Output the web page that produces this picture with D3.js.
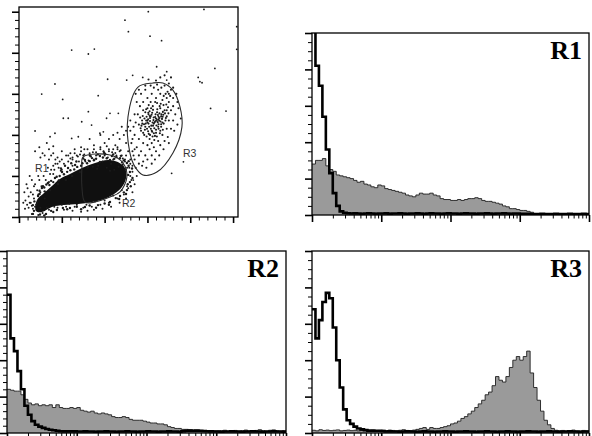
<!DOCTYPE html>
<html>
<head>
<meta charset="utf-8">
<script src="https://cdn.jsdelivr.net/npm/d3@7"></script>
<style>
  body { margin: 0; background: #fff; }
  svg { display: block; }
</style>
</head>
<body>
<div id="main"></div>
<script>
// log10 of the left edge of each histogram channel bin (4 decades)
const binEdges = [0,0.05,0.1,0.15,0.2,0.25,0.3,0.35,0.4,0.45,0.5,0.55,0.6,0.65,0.7,0.75,0.8,0.85,0.9,0.95,
  1,1.05,1.1,1.15,1.2,1.25,1.3,1.35,1.4,1.45,1.5,1.55,1.6,1.65,1.7,1.75,1.8,1.85,1.9,1.95,
  2,2.05,2.1,2.15,2.2,2.25,2.3,2.35,2.4,2.45,2.5,2.55,2.6,2.65,2.7,2.75,2.8,2.85,2.9,2.95,
  3,3.05,3.1,3.15,3.2,3.25,3.3,3.35,3.4,3.45,3.5,3.55,3.6,3.65,3.7,3.75,3.8,3.85,3.9,3.95];

// counts (% of panel height) per bin: grey = stained, black line = control
const r1Stained = [28,30,30,31,27,25,24,22,21.5,21, 20.5,20,19,18,18.5,17,16.5,15.5,15,16.5,
  16,14.5,14,13.5,13,12.5,12,11,10.5,10, 11,12,11.5,11.5,12,11,10.5,9,8.5,8.5,
  8,8,8.5,8,8.5,9,9,9.5,9,8, 7.5,7.5,7,6.5,6,5,4.5,3.5,3.5,3,
  2.5,2.5,2,1.5,0.8,0.6,0.5,0.6,0.5,0.7, 0.5,0.6,0.5,0.6,0.5,0.7,0.5,0.6,0.5,0.6];
const r1Control = [118,82,71,54,36,23,12,5,2,1.2, 1,0.8,0.9,0.8,0.7,0.8,0.9,0.8,0.7,0.8,
  0.8,0.9,0.7,0.8,0.8,0.9,0.8,0.7,0.8,0.8, 0.9,0.8,0.7,0.8,0.9,0.8,0.8,0.7,0.8,0.9,
  0.8,0.8,0.7,0.8,0.9,0.8,0.8,0.7,0.8,0.8, 0.9,0.8,0.7,0.8,0.8,0.9,0.8,0.7,0.8,0.8,
  0.7,0.6,0.6,0.5,0.5,0.5,0.6,0.5,0.5,0.5, 0.6,0.5,0.5,0.5,0.6,0.5,0.5,0.5,0.6,0.5];

const r2Stained = [24,23.5,23,23,21,18.5,16.5,15.5,16,15, 15.5,15,15.5,14,15.5,14,13.5,13.5,14,13.5,
  14,12.5,12,11.5,12,11,10.5,11,10.5,10, 9,8.5,8.5,9,8.5,7.5,7,7,7,6.5,
  6,5.5,5.5,5,5,4.5,3.5,3,2.5,2.5, 2,2,1.8,1.6,1.6,1.4,1.2,1.2,1.2,1.2,
  1.2,1.2,1.5,1,1.3,1.4,1,1.2,1.6,1.1, 1,1.4,1.8,1.2,1,1.5,1.7,1.2,1,1.3];
const r2Control = [76,52,45,34,24,15,10,6.5,4.5,3.5, 2.8,2.2,1.8,1.5,1.2,1,0.9,0.9,0.9,0.9,
  0.8,0.8,0.9,0.8,0.8,0.7,0.8,0.8,0.9,0.8, 0.8,0.7,0.8,0.8,0.9,0.8,0.8,0.7,0.8,0.8,
  0.9,0.8,0.8,0.7,0.8,0.8,0.9,0.8,0.8,0.7, 1,1.2,1.3,1.2,1.3,1.2,1.1,1,0.9,0.8,
  0.8,0.7,0.8,0.8,0.9,0.8,0.8,0.7,0.8,0.8, 0.9,0.8,0.8,0.7,0.8,0.8,0.9,0.8,0.8,0.7];

const r3Stained = [1.5,1.2,1.8,1.4,1.6,1.3,1.5,1.7,1.2,1.4, 1.6,1.3,1.5,1.2,1.4,1.6,1.3,1.5,1.2,1.4,
  1.5,1.3,1.6,1.4,1.2,1.5,1.8,1.4,1.3,1.6, 2,2.5,3,2,3,2.5,2.5,3,3.5,4,
  5,5.5,6.5,8,9,10.5,12,14,16,18, 21,22.5,26,31,29,28,31,36,40,42,
  40,42,45,33,25,18,12,7,4.5,2.5, 1.5,1.2,1.4,1,1.3,1.6,1.1,1,1.4,1.2];
const r3Control = [68,52,62,72,77,74,58,40,25,13, 7,5,3.5,2.5,2,1.6,1.3,1.3,1.2,1.2,
  1.1,0.8,0.9,0.8,0.8,0.7,0.8,0.9,0.8,0.8, 0.7,0.8,0.9,0.8,0.8,0.7,0.8,0.8,0.9,0.8,
  0.8,0.7,0.8,0.8,0.9,0.8,0.8,0.7,0.8,0.8, 0.9,0.8,0.8,0.7,0.8,0.8,0.9,0.8,0.8,0.7,
  0.8,0.8,0.9,0.8,0.8,0.7,0.8,0.8,0.9,0.8, 0.8,0.7,0.8,0.8,0.9,0.8,0.8,0.7,0.8,0.8];

// scatter events [FSC, SSC] in channels 0-1023
const outlierEvents = [[495,959],[511,903],[604,1000],[612,881],[666,859],[246,813],[324,794],[352,818],
  [864,1011],[1017,927],[1017,817],[168,648],[106,599],[204,573],[370,591],[414,671],[503,667],[531,690],
  [578,680],[643,732],[690,708],[690,667],[837,680],[845,659],[855,654],[915,724],[895,529],[967,516],
  [207,481],[230,481],[324,513],[339,448],[293,464],[409,481],[425,505],[464,505],[75,419],[145,391],
  [168,408],[246,383],[277,391],[378,408],[394,415],[768,269],[713,213],[534,180]];

const r3Events = [[600,470],[615,490],[630,455],[645,510],[590,440],[660,530],[620,420],[605,500],[640,480],
  [655,470],[675,545],[585,400],[570,420],[610,380],[635,395],[650,440],[665,500],[680,520],[625,540],[600,530],
  [590,510],[575,470],[560,450],[620,600],[640,580],[660,600],[690,580],[700,560],[710,620],[650,620],[630,630],
  [680,640],[700,600],[720,580],[690,490],[700,470],[710,520],[720,540],[670,460],[660,420],[640,410],[620,360],
  [600,350],[580,360],[560,380],[550,340],[570,320],[590,300],[610,330],[630,340],[650,370],[670,400],[690,430],
  [540,400],[545,460],[555,500],[565,540],[580,560],[600,580],[615,560],[645,555],[670,570],[685,600],[735,600],
  [740,560],[730,500],[720,470],[710,430],[695,390],[680,370],[660,350],[640,320],[620,300],[600,280],[580,270],
  [560,260],[540,280],[530,320],[525,360],[535,440],[540,500],[550,560],[570,600],[590,620],[615,640],[645,645],
  [665,630],[700,650],[720,630],[605,455],[612,468],[628,472],[638,500],[648,462],[622,508],[596,488],[584,452],
  [632,432],[652,488],[668,478],[618,445],[603,418],[646,525],[662,552],[626,522],[594,470],[642,446],[656,505],
  [610,515],[578,492],[688,548],[672,512],[636,560],[606,545],[572,445],[588,425],[612,400],[632,375],[664,440],
  [684,470],[698,505],[612,482],[624,460],[636,487],[652,452],[600,460],[617,530],[649,497],[657,540],[580,520],
  [566,485],[694,610],[676,590],[706,590],[745,530],[756,480],[560,300],[575,250],[595,240],[620,260],[635,280],
  [655,300],[675,330],[700,360],[725,420],[740,450],[520,420],[530,380],[560,620],[545,600],[590,640],[640,665],
  [660,680],[605,670],[680,690],[710,680],
  [598,430],[608,440],[616,430],[626,445],[634,462],[644,472],[656,482],[664,490],[674,498],[592,455],
  [603,476],[611,492],[619,498],[629,485],[639,468],[651,476],[661,465],[671,488],[682,505],[690,520],
  [622,415],[630,408],[640,425],[652,430],[664,452],[676,455],[686,482],[696,535],[604,508],[594,525],
  [586,480],[576,455],[568,432],[580,410],[596,392],[606,405],[624,392],[644,392],[658,408],[672,425]];

const bridgeEvents = [[400,300],[420,320],[440,280],[460,340],[480,300],[500,360],[510,320],[490,400],[470,380],
  [450,350],[430,260],[410,240],[390,270],[520,280],[530,250],[505,240],[485,255],[465,245],[445,230],[425,225],
  [500,420],[480,440],[460,410],[440,400],[420,380],[400,360],[380,330],[360,300],[370,250],[350,280],[330,310],
  [310,270],[320,240],[300,300],[290,340],[280,270],[270,300],[350,350],[380,400],[330,380],[520,470],[510,440],
  [540,330],[455,300],[475,325],[495,280],[415,290],[435,315],[395,320],[365,235],[345,245],[325,275],[305,330],
  [260,330],[250,280],[240,310],[220,300],[200,320],[180,290],[160,310]];

const r1Events = [[40,140],[60,180],[120,300],[70,150],[90,200],[150,300],
  [55,120],[75,160],[95,180],[115,200],[135,240],[160,250],[180,260],[45,100],[65,110],[85,130],[105,150],
  [125,180],[145,210],[165,230],[185,240],[30,80],[50,70],[70,90],[90,110],[140,280],[170,280],[190,270],
  [100,290],[50,200],[35,160],[25,120],[20,70],[38,60],[28,40],[45,45],[60,55],
  [80,60],[210,260],[230,270],[250,250],[200,230],[75,320],[95,340],[140,330],[160,345],[110,310],[130,360]];

const coreEdgeEvents = [[150,230],[170,260],[200,280],[230,300],[260,310],[290,320],[320,330],[350,330],[380,340],
  [410,345],[440,330],[470,320],[500,300],[520,260],[530,220],[525,180],[510,140],[490,110],[460,90],[420,70],
  [380,60],[340,50],[300,45],[260,50],[220,50],[180,45],[140,35],[110,20],[90,10],[60,15],[65,40],[55,70],
  [85,70],[120,90],[100,120],[140,170],[160,210],[195,225],[240,285],[275,295],[305,305],[345,315],[395,318],
  [450,312],[485,285],[515,240],[520,200],[505,150],[480,130],[440,105],[400,80],[355,75],[315,60],[270,60],
  [235,65],[200,60],[165,50],[130,45],[100,45],[75,50],[250,290],[285,305],[330,300],[360,315],[420,330],
  [460,330],[495,270],[535,300],[545,240],[550,200],[540,160],[530,120],[500,90],[470,70],[430,50],[390,40],
  [350,35],[320,30],[290,25],[250,30],[210,35]];

const coreHaloEvents = [[107,141],[135,166],[168,190],[201,219],[229,239],[262,253],[308,278],[341,287],[378,297],
  [402,307],[434,297],[472,287],[504,263],[518,219],[518,170],[504,131],[472,102],[425,73],[369,58],[308,49],
  [238,44],[177,34],[126,15],[65,15],[65,58],[89,102],[145,131],[182,161],[219,180],[248,200],[285,219],[322,244],
  [378,268],[425,278],[112,150],[128,158],[150,176],[176,196],[210,208],[240,228],[272,244],[296,262],[330,272],
  [360,284],[392,290],[455,292],[490,276],[512,250],[510,205],[508,160],[490,120],[452,92],[400,66],[330,56],
  [270,50],[205,44],[150,30],[98,12],[70,30],[72,76],[96,112],[120,125],[160,170],[190,200],[225,220],[258,232],
  [290,250],[318,262],[350,276],[410,286],[445,284],[482,266],[498,232],[96,128],[118,144],[142,156],[186,178],
  [196,236],[215,250],[244,262],[268,270],[300,285],[335,296],[368,305],[398,312],[440,305],[476,298],[512,272],
  [528,236],[530,190],[522,150],[500,112],[468,88],[420,60],[360,45],[290,38],[225,38],[160,24],[118,8]];

// outline of the saturated (solid) event cloud
const coreOutline = [[79,29],[84,83],[117,117],[154,151],[191,185],[238,209],[294,239],[355,263],[416,278],
  [462,268],[495,239],[500,190],[481,146],[444,112],[397,88],[341,73],[276,63],[210,58],[154,49],[107,24]];

const gateR2 = [[299,292],[425,302],[486,263],[504,195],[472,122],[425,97],[355,73],[308,73],[294,146],[294,244]];
const gateR3 = [[626,653],[556,633],[509,487],[518,312],[542,244],[579,205],[644,219],[719,312],[761,438],
  [752,536],[719,618],[672,653]];

const gateLabels = [
  { text: 'R1', fsc: 75, ssc: 220 },
  { text: 'R2', fsc: 481, ssc: 49 },
  { text: 'R3', fsc: 766, ssc: 292 }
];

let svg = d3.select('#main').append('svg').attr('width', 592).attr('height', 436);

class DotPlot {
  constructor(config) {
    this.config = config;
    this.margins = svg.append('g')
      .attr('transform', `translate(${config.left},${config.top})`);
    this.createScales();
  }

  createScales() {
    this.xScale = d3.scaleLinear().domain([0, 1023]).range([0, this.config.width]);
    this.yScale = d3.scaleLinear().domain([0, 1023]).range([this.config.height, 0]);
  }

  createAxis() {
    let majors = [0, 200, 400, 600, 800, 1000];
    let minors = d3.range(0, 1024, 40).filter(v => v % 200 !== 0);

    let addAxis = (axis, values, size, width, transform) => {
      let g = this.margins.append('g').attr('transform', transform)
        .call(axis.tickValues(values).tickSize(size).tickFormat(''));
      g.select('.domain').remove();
      g.selectAll('line').attr('stroke', '#000').attr('stroke-width', width);
    };
    addAxis(d3.axisBottom(this.xScale), majors, 6, 1.6, `translate(0,${this.config.height})`);
    addAxis(d3.axisBottom(this.xScale), minors, 3.5, 1, `translate(0,${this.config.height})`);
    addAxis(d3.axisLeft(this.yScale), majors, 7, 1.6, 'translate(0,0)');
    addAxis(d3.axisLeft(this.yScale), minors, 4, 1, 'translate(0,0)');
  }

  renderEvents() {
    let x = this.xScale, y = this.yScale;
    let cloud = d3.line().x(d => x(d[0])).y(d => y(d[1])).curve(d3.curveCatmullRomClosed.alpha(0.5));

    this.margins.append('path')
      .attr('d', cloud(coreOutline))
      .attr('fill', '#101010');

    let groups = [
      { events: outlierEvents, r: 0.9 },
      { events: r3Events, r: 1.05 },
      { events: bridgeEvents, r: 1.0 },
      { events: r1Events, r: 1.0 },
      { events: coreEdgeEvents, r: 1.0 },
      { events: coreHaloEvents, r: 1.2 }
    ];
    groups.forEach(grp => {
      this.margins.append('g').selectAll('circle')
        .data(grp.events)
        .enter()
        .append('circle')
          .attr('cx', d => x(d[0]))
          .attr('cy', d => y(d[1]))
          .attr('r', grp.r)
          .attr('fill', '#1a1a1a');
    });

    [gateR2, gateR3].forEach(gate => {
      this.margins.append('path')
        .attr('d', cloud(gate))
        .attr('fill', 'none')
        .attr('stroke', '#2a2a2a')
        .attr('stroke-width', 1.1);
    });

    this.margins.selectAll('text.gate')
      .data(gateLabels)
      .enter()
      .append('text')
        .attr('class', 'gate')
        .attr('x', d => x(d.fsc))
        .attr('y', d => y(d.ssc))
        .attr('font-family', 'Liberation Sans, Arial, sans-serif')
        .attr('font-size', 10.5)
        .attr('fill', '#333')
        .text(d => d.text);

    this.margins.append('rect')
      .attr('width', this.config.width)
      .attr('height', this.config.height)
      .attr('fill', 'none')
      .attr('stroke', '#000')
      .attr('stroke-width', 1.3);
  }
}

class FlowHistogram {
  constructor(config) {
    this.config = config;
    this.margins = svg.append('g')
      .attr('transform', `translate(${config.left},${config.top})`);
    this.createScales();
  }

  createScales() {
    this.xScale = d3.scaleLog().domain([1, 10000]).range([0, this.config.width]);
    this.yScale = d3.scaleLinear().domain([0, 100]).range([this.config.height, 0]);
  }

  createAxis() {
    let decades = [1, 10, 100, 1000, 10000];
    let minorX = [];
    decades.slice(0, 4).forEach(m => { for (let k = 2; k < 10; k++) minorX.push(m * k); });
    let majorY = d3.range(0, 101, 20);
    let minorY = d3.range(0, 101, this.config.yMinor).filter(v => v % 20 !== 0);

    let addAxis = (axis, values, size, width, transform) => {
      let g = this.margins.append('g').attr('transform', transform)
        .call(axis.tickValues(values).tickSize(size).tickFormat(''));
      g.select('.domain').remove();
      g.selectAll('line').attr('stroke', '#000').attr('stroke-width', width);
    };
    let bottom = `translate(0,${this.config.height})`;
    addAxis(d3.axisBottom(this.xScale), decades, 7, 1.6, bottom);
    addAxis(d3.axisBottom(this.xScale), minorX, 3.5, 1, bottom);
    addAxis(d3.axisLeft(this.yScale), majorY, 7, 1.6, 'translate(0,0)');
    addAxis(d3.axisLeft(this.yScale), minorY, 4, 1, 'translate(0,0)');
  }

  toSteps(counts) {
    let pts = binEdges.map((b, i) => ({ v: Math.pow(10, b), c: counts[i] }));
    pts.push({ v: 10000, c: counts[counts.length - 1] });
    return pts;
  }

  renderHistograms(stained, control) {
    let x = this.xScale, y = this.yScale, h = this.config.height;
    let clipId = 'clip-' + this.config.label;
    this.margins.append('clipPath').attr('id', clipId)
      .append('rect').attr('width', this.config.width).attr('height', h);

    let plot = this.margins.append('g').attr('clip-path', `url(#${clipId})`);

    let area = d3.area().x(d => x(d.v)).y0(h).y1(d => y(d.c)).curve(d3.curveStepAfter);
    let line = d3.line().x(d => x(d.v)).y(d => y(d.c)).curve(d3.curveStepAfter);

    plot.append('path')
      .attr('d', area(this.toSteps(stained)))
      .attr('fill', '#9a9a9a');
    plot.append('path')
      .attr('d', line(this.toSteps(stained)))
      .attr('fill', 'none')
      .attr('stroke', '#1e1e1e')
      .attr('stroke-width', 0.9);
    plot.append('path')
      .attr('d', line(this.toSteps(control)))
      .attr('fill', 'none')
      .attr('stroke', '#000')
      .attr('stroke-width', 2.6);

    this.margins.append('rect')
      .attr('width', this.config.width)
      .attr('height', h)
      .attr('fill', 'none')
      .attr('stroke', '#000')
      .attr('stroke-width', 1.3);

    this.margins.append('text')
      .attr('x', this.config.width - 7)
      .attr('y', 26)
      .attr('text-anchor', 'end')
      .attr('font-family', 'Liberation Serif, Times New Roman, serif')
      .attr('font-weight', 'bold')
      .attr('font-size', 26)
      .attr('fill', '#000')
      .text(this.config.label);
  }
}

let dotPlot = new DotPlot({ left: 19, top: 7, width: 219, height: 210 });
dotPlot.createAxis();
dotPlot.renderEvents();

let panels = [
  { cfg: { label: 'R1', left: 312, top: 33, width: 277, height: 182, yMinor: 5 }, stained: r1Stained, control: r1Control },
  { cfg: { label: 'R2', left: 7, top: 251, width: 279, height: 182, yMinor: 4 }, stained: r2Stained, control: r2Control },
  { cfg: { label: 'R3', left: 312, top: 251, width: 277, height: 182, yMinor: 5 }, stained: r3Stained, control: r3Control }
];

panels.forEach(p => {
  let hist = new FlowHistogram(p.cfg);
  hist.createAxis();
  hist.renderHistograms(p.stained, p.control);
});
</script>
</body>
</html>
